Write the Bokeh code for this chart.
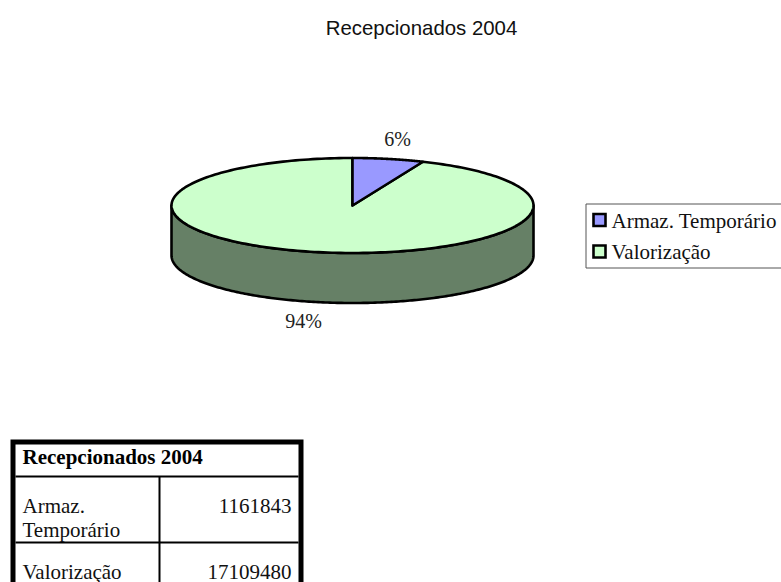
import numpy as np
from bokeh.plotting import figure
from bokeh.embed import file_html
from bokeh.resources import INLINE
from bokeh.core.properties import value

title = "Recepcionados 2004"
categories = ["Armaz. Temporário", "Valorização"]
values = [1161843, 17109480]
pct_labels = ["6%", "94%"]
colors = ["#9999FF", "#CCFFCC"]
side_color = "#668066"
table_rows = [["Armaz.", "Temporário"], ["Valorização"]]

SERIF = value("Liberation Serif")
SANS = value("Liberation Sans")
W, H = 781, 582
p = figure(width=W, height=H, x_range=(0, W), y_range=(H, 0),
           output_backend="svg", toolbar_location=None, min_border=0,
           outline_line_color=None, background_fill_color="white")
p.axis.visible = False
p.grid.visible = False

# 3D pie projected from the values
cx, cy, a, b, depth = 352, 205, 181, 47.5, 50
frac = values[0] / sum(values)
sweep = 2 * np.pi * frac

def rim(t0, t1, yc=cy, n=240):
    t = np.linspace(t0, t1, n)
    return cx + a * np.sin(t), yc - b * np.cos(t)

sx1, sy1 = rim(np.pi / 2, 3 * np.pi / 2, cy)
sx2, sy2 = rim(3 * np.pi / 2, np.pi / 2, cy + depth)
p.patch(np.r_[sx1, sx2], np.r_[sy1, sy2], fill_color=side_color,
        line_color="black", line_width=2.6, line_join="round")
gx, gy = rim(sweep, 2 * np.pi)
p.patch(np.r_[cx, gx], np.r_[cy, gy], fill_color=colors[1],
        line_color="black", line_width=2.6, line_join="round")
bx, by = rim(0, sweep)
p.patch(np.r_[cx, bx], np.r_[cy, by], fill_color=colors[0],
        line_color="black", line_width=2.6, line_join="round")

p.text([421], [27], text=[title], text_font=SANS, text_font_size="20.4px",
       text_align="center", text_baseline="alphabetic", text_color="#111111")
p.text([397, 303], [138, 320], text=pct_labels, text_font=SERIF, text_font_size="20px",
       text_align="center", text_baseline="alphabetic", text_color="#222222")

# Legend
p.quad(left=[585.5], right=[800], top=[203.5], bottom=[267.5], fill_color="white",
       line_color="#555555", line_width=1)
p.quad(left=[593, 593], right=[605, 605], top=[213.5, 245], bottom=[225.5, 257],
       fill_color=colors, line_color="black", line_width=2.6, line_join="miter")
p.text([611, 611], [220, 251], text=categories, text_font=SERIF, text_font_size="21px",
       text_align="left", text_baseline="alphabetic", text_color="#111111")

# Table
p.quad(left=[12.5], right=[300.5], top=[441.5], bottom=[600], fill_color="white",
       line_color="black", line_width=5, line_join="miter")
p.segment([15, 15, 159], [476, 542, 476], [298, 298, 159], [476, 542, 600],
          line_color="black", line_width=2)
p.text([22], [456], text=[title], text_font=SERIF, text_font_size="21px", text_font_style="bold",
       text_align="left", text_baseline="alphabetic", text_color="black")
p.text([22, 22, 22], [505, 529, 571], text=[table_rows[0][0], table_rows[0][1], table_rows[1][0]],
       text_font=SERIF, text_font_size="21px", text_align="left",
       text_baseline="alphabetic", text_color="#111111")
p.text([291, 291], [505, 571], text=[str(v) for v in values], text_font=SERIF,
       text_font_size="21px", text_align="right", text_baseline="alphabetic", text_color="#111111")

open("out.html", "w").write(file_html(p, INLINE))
